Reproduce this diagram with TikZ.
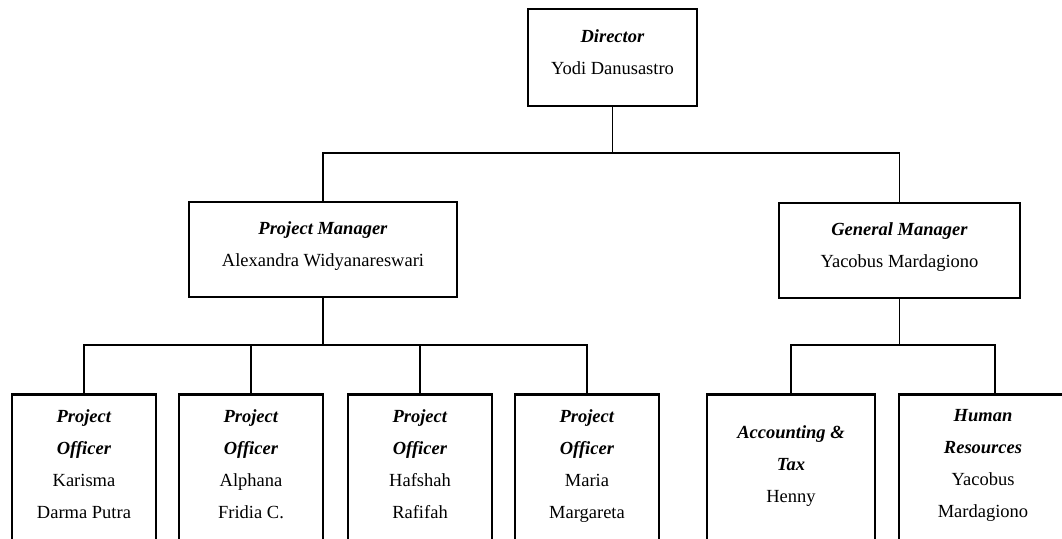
\documentclass[tikz,border=0pt]{standalone}
\usepackage{fontspec}
\setmainfont{Liberation Serif}
\usetikzlibrary{positioning}
\newcommand{\rolename}[1]{\textbf{\textit{#1}}}

\begin{document}
\begin{tikzpicture}[
x=1pt,y=-1pt,
font=\fontsize{18.5}{32}\selectfont,
box/.style={
	draw,
	rectangle,
	line width=2.8pt,
	align=center,
	text depth=11pt,
	inner sep=0pt
},
staff/.style={
	box,
	anchor=north,
	minimum height=150pt
},
link/.style={
	line width=1.2pt
}
]
\useasboundingbox (0,0) rectangle (1062,538);
\clip (0,0) rectangle (1062,538);

\node[box,minimum width=169pt,minimum height=97pt] (dir) at (612.5,57.5)
	{\rolename{Director}\\Yodi Danusastro};
\node[box,minimum width=268pt,minimum height=95pt] (pm) at (323,249.5)
	{\rolename{Project Manager}\\Alexandra Widyanareswari};
\node[box,minimum width=241pt,minimum height=95pt] (gm) at (899.5,250.5)
	{\rolename{General Manager}\\Yacobus Mardagiono};

\foreach \i/\x/\n in {1/84/{Karisma\\Darma Putra},2/251/{Alphana\\Fridia C.},%
	3/420/{Hafshah\\Rafifah},4/587/{Maria\\Margareta}}
\node[staff,minimum width=144pt] (po\i) at (\x,393)
	{\rolename{Project}\\\rolename{Officer}\\\n};

\node[staff,minimum width=168pt] (acc) at (791,393)
	{\rolename{Accounting \&}\\\rolename{Tax}\\Henny};
\node[staff,minimum width=168pt] (hr) at (983,393)
	{\rolename{Human}\\\rolename{Resources}\\Yacobus\\Mardagiono};

\coordinate (tb) at (612.5,153);
\coordinate (lb) at (323,345);
\coordinate (rb) at (gm.south |- lb);

\draw[link] (dir.south) -- (tb);
\draw[link] (pm.north) |- (tb) -| (gm.north);

\draw[link] (pm.south) -- (lb);
\draw[link] (po1.north) |- (lb) -| (po4.north);
\foreach \i in {2,3}
\draw[link] (po\i.north) -- (po\i.north |- lb);

\draw[link] (gm.south) -- (rb);
\draw[link] (acc.north) |- (rb) -| ([xshift=12pt]hr.north);
\end{tikzpicture}
\end{document}
